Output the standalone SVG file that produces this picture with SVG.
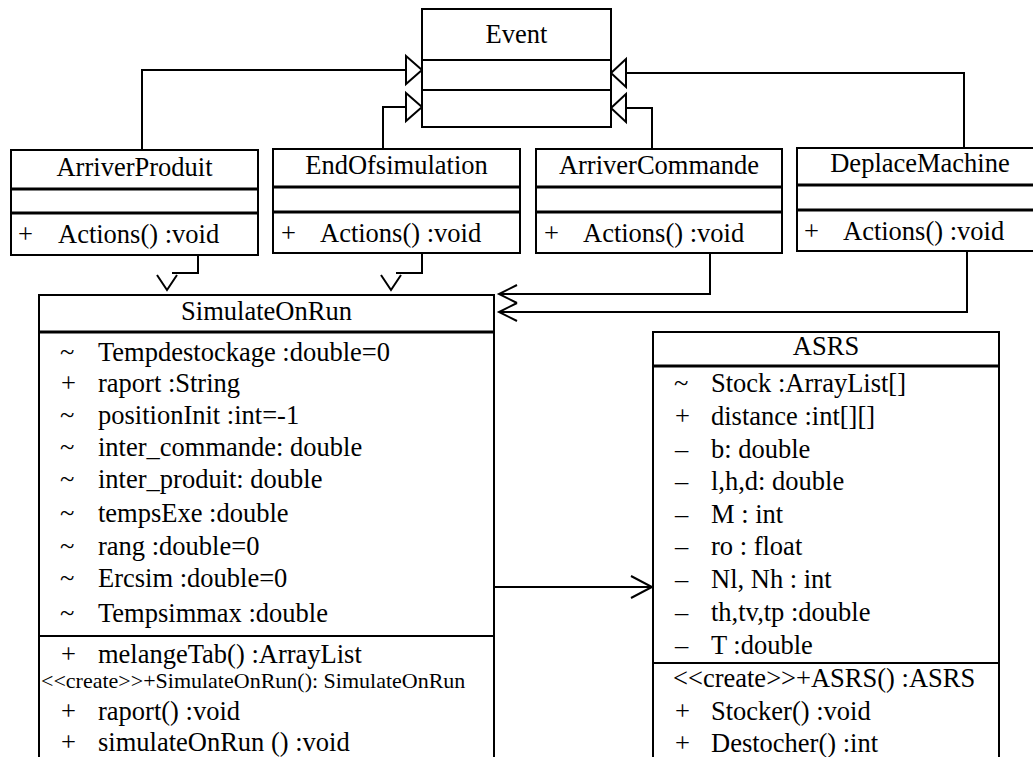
<svg xmlns="http://www.w3.org/2000/svg" width="1033" height="757" viewBox="0 0 1033 757" font-family="'Liberation Serif', 'Times New Roman', serif">
<style>
.box{fill:#fff;stroke:#000;stroke-width:2}
.sep{stroke:#000;stroke-width:2}
.sep3{stroke:#000;stroke-width:3}
text{font-family:'Liberation Serif','Times New Roman',serif;fill:#000}
.t{font-size:26.5px}
.s{font-size:22px}
.c{text-anchor:middle}
.ln{fill:none;stroke:#000;stroke-width:2}
.tri{fill:#fff;stroke:#000;stroke-width:2}
</style>
<rect width="1033" height="757" fill="#fff"/>
<g id="connectors">
  <path class="ln" d="M142,150 V70 H406"/>
  <polygon class="tri" points="406,56 422,70 406,84"/>
  <path class="ln" d="M383,149 V107 H406"/>
  <polygon class="tri" points="406,93 422,107 406,121"/>
  <path class="ln" d="M964,148 V73 H626"/>
  <polygon class="tri" points="626,59 611,73 626,87"/>
  <path class="ln" d="M652,149 V108 H626"/>
  <polygon class="tri" points="626,94 611,108 626,122"/>
  <path class="ln" d="M198,255 V273 H172"/>
  <polyline class="ln" points="157,275 167,290 177,275"/>
  <path class="ln" d="M422,253 V273 H396"/>
  <polyline class="ln" points="381,275 391,290 401,275"/>
  <path class="ln" d="M710,253 V294 H499"/>
  <polyline class="ln" points="517,285 499,294 517,303"/>
  <path class="ln" d="M967,251 V312 H499"/>
  <polyline class="ln" points="517,303 499,312 517,321"/>
  <path class="ln" d="M494,587 H652"/>
  <polyline class="ln" points="631,576 652,587 631,598"/>
</g>
<g id="Event">
  <rect class="box" x="422" y="9" width="189" height="118"/>
  <line class="sep" x1="422" y1="60" x2="611" y2="60"/>
  <line class="sep" x1="422" y1="90" x2="611" y2="90"/>
  <text class="t c" x="516.5" y="43">Event</text>
</g>
<g id="ArriverProduit">
  <rect class="box" x="11" y="150" width="247" height="105"/>
  <line class="sep3" x1="11" y1="189" x2="258" y2="189"/>
  <line class="sep3" x1="11" y1="213" x2="258" y2="213"/>
  <text class="t c" x="134.5" y="176">ArriverProduit</text>
  <text class="t" x="18" y="243">+</text>
  <text class="t" x="58" y="243">Actions() :void</text>
</g>
<g id="EndOfsimulation">
  <rect class="box" x="273" y="149" width="247" height="104"/>
  <line class="sep3" x1="273" y1="187" x2="520" y2="187"/>
  <line class="sep3" x1="273" y1="212" x2="520" y2="212"/>
  <text class="t c" x="396.5" y="174">EndOfsimulation</text>
  <text class="t" x="281" y="242">+</text>
  <text class="t" x="320" y="242">Actions() :void</text>
</g>
<g id="ArriverCommande">
  <rect class="box" x="536" y="149" width="246" height="104"/>
  <line class="sep3" x1="536" y1="187" x2="782" y2="187"/>
  <line class="sep3" x1="536" y1="212" x2="782" y2="212"/>
  <text class="t c" x="659" y="174">ArriverCommande</text>
  <text class="t" x="544" y="242">+</text>
  <text class="t" x="583" y="242">Actions() :void</text>
</g>
<g id="DeplaceMachine">
  <rect class="box" x="797" y="148" width="246" height="103"/>
  <line class="sep3" x1="797" y1="185" x2="1043" y2="185"/>
  <line class="sep3" x1="797" y1="210" x2="1043" y2="210"/>
  <text class="t c" x="920" y="172">DeplaceMachine</text>
  <text class="t" x="804" y="240">+</text>
  <text class="t" x="843" y="240">Actions() :void</text>
</g>
<g id="SimulateOnRun">
  <rect class="box" x="39" y="295" width="455" height="470"/>
  <line class="sep3" x1="39" y1="332" x2="494" y2="332"/>
  <line class="sep" x1="39" y1="636" x2="494" y2="636"/>
  <text class="t c" x="266.5" y="320">SimulateOnRun</text>
  <g class="t">
    <text class="t" x="60" y="361">~</text><text class="t" x="98" y="361">Tempdestockage :double=0</text>
    <text class="t" x="61" y="392">+</text><text class="t" x="98" y="392">raport :String</text>
    <text class="t" x="60" y="424">~</text><text class="t" x="98" y="424">positionInit :int=-1</text>
    <text class="t" x="60" y="456">~</text><text class="t" x="98" y="456">inter_commande: double</text>
    <text class="t" x="60" y="488">~</text><text class="t" x="98" y="488">inter_produit: double</text>
    <text class="t" x="60" y="522">~</text><text class="t" x="98" y="522">tempsExe :double</text>
    <text class="t" x="60" y="555">~</text><text class="t" x="98" y="555">rang :double=0</text>
    <text class="t" x="60" y="587">~</text><text class="t" x="98" y="587">Ercsim :double=0</text>
    <text class="t" x="60" y="622">~</text><text class="t" x="98" y="622">Tempsimmax :double</text>
    <text class="t" x="61" y="663">+</text><text class="t" x="98" y="663">melangeTab() :ArrayList</text>
    <text class="t" x="61" y="720">+</text><text class="t" x="98" y="720">raport() :void</text>
    <text class="t" x="61" y="751">+</text><text class="t" x="98" y="751">simulateOnRun () :void</text>
  </g>
  <text class="s" x="41" y="688">&lt;&lt;create&gt;&gt;+SimulateOnRun(): SimulateOnRun</text>
</g>
<g id="ASRS">
  <rect class="box" x="653" y="332" width="346" height="433"/>
  <line class="sep3" x1="653" y1="366" x2="999" y2="366"/>
  <line class="sep" x1="653" y1="663" x2="999" y2="663"/>
  <text class="t c" x="826" y="355">ASRS</text>
  <g class="t">
    <text class="t" x="674" y="392">~</text><text class="t" x="711" y="392">Stock :ArrayList[]</text>
    <text class="t" x="675" y="425">+</text><text class="t" x="711" y="425">distance :int[][]</text>
    <text class="t" x="675" y="458">–</text><text class="t" x="711" y="458">b: double</text>
    <text class="t" x="675" y="490">–</text><text class="t" x="711" y="490">l,h,d: double</text>
    <text class="t" x="675" y="523">–</text><text class="t" x="711" y="523">M : int</text>
    <text class="t" x="675" y="555">–</text><text class="t" x="711" y="555">ro : float</text>
    <text class="t" x="675" y="588">–</text><text class="t" x="711" y="588">Nl, Nh : int</text>
    <text class="t" x="675" y="621">–</text><text class="t" x="711" y="621">th,tv,tp :double</text>
    <text class="t" x="675" y="654">–</text><text class="t" x="711" y="654">T :double</text>
    <text class="t" x="673" y="687">&lt;&lt;create&gt;&gt;+ASRS() :ASRS</text>
    <text class="t" x="675" y="720">+</text><text class="t" x="711" y="720">Stocker() :void</text>
    <text class="t" x="675" y="752">+</text><text class="t" x="711" y="752">Destocher() :int</text>
  </g>
</g>
</svg>
